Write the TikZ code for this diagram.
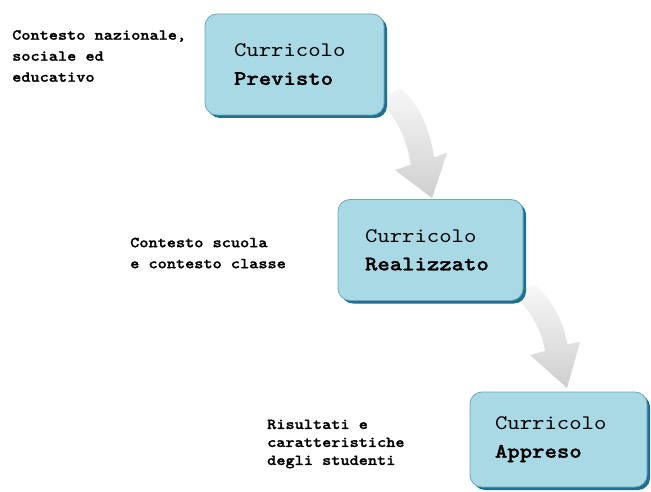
\documentclass[tikz,border=0pt]{standalone}
\usepackage{fontspec}
\setmonofont{lmmono10-regular.otf}[BoldFont=lmmonolt10-bold.otf, FakeStretch=1.14, BoldFeatures={FakeBold=1.2}]
\definecolor{boxfill}{RGB}{170,217,230}
\definecolor{boxline}{RGB}{105,168,188}
\definecolor{boxshadow}{RGB}{30,112,142}
\tikzset{
  cbox/.style={draw=boxline, line width=0.8pt, fill=boxfill, rounded corners=12pt,
    minimum height=101pt, align=left, inner ysep=0pt,
    font=\fontsize{20.7pt}{28pt}\selectfont\ttfamily,
    preaction={fill=boxshadow, transform canvas={shift={(3pt,-3pt)}}}},
  ctx/.style={anchor=west, align=left, inner sep=0pt,
    font=\fontsize{15.3pt}{21pt}\selectfont\ttfamily\bfseries},
  garrow/.style={top color=gray!6, bottom color=gray!38, shading angle=0, draw=none}
}
\begin{document}
\begin{tikzpicture}[x=1pt,y=-1pt]
\useasboundingbox (0,0) rectangle (651,492);
\fill[white] (0,0) rectangle (651,492);
% arrows (drawn first so the boxes cover their tails)
\shade[garrow] (378,100) .. controls (400,120) and (408,145) .. (410.6,164.9)
  -- (395,170) -- (432,198) -- (447,153) -- (434,157.3)
  .. controls (430,130) and (420,105) .. (400,88) -- cycle;
\shade[garrow] (512,292) .. controls (530,310) and (542,330) .. (545,351)
  -- (530,355) -- (567,388) -- (580,342) -- (567.5,344.3)
  .. controls (563,320) and (552,300) .. (535,285) -- cycle;
% boxes
\node[cbox, minimum width=179pt, text width=121pt, inner xsep=29pt] (b1) at (294.5,64.5)
  {Curricolo\\\textbf{Previsto}};
\node[cbox, minimum width=185pt, text width=131pt, inner xsep=27pt] (b2) at (430.5,250)
  {Curricolo\\\textbf{Realizzato}};
\node[cbox, minimum width=177pt, minimum height=95pt, text width=127pt, inner xsep=25pt] (b3) at (558.5,439.5)
  {Curricolo\\\textbf{Appreso}};
% context labels
\node[ctx] (l1) at (12,56) {Contesto nazionale,\\sociale ed\\educativo};
\node[ctx] (l2) at (130,253) {Contesto scuola\\e contesto classe};
\node[ctx, font=\fontsize{15.3pt}{18pt}\selectfont\ttfamily\bfseries] (l3) at (267,444)
  {Risultati e\\caratteristiche\\degli studenti};
\end{tikzpicture}
\end{document}
